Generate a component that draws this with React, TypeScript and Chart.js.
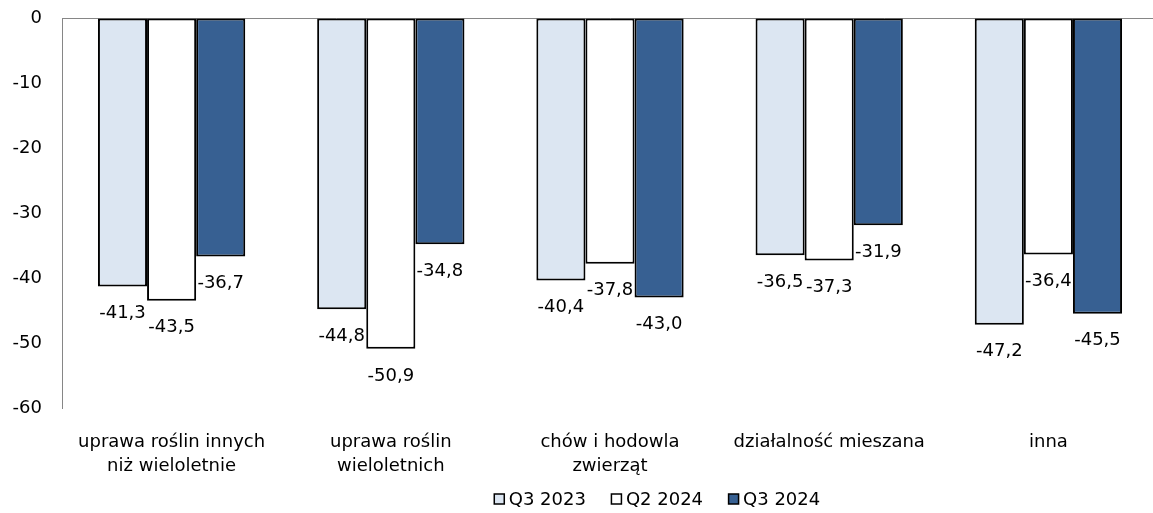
import React, { useEffect, useRef } from "react";
import { Chart, registerables } from "chart.js";

Chart.register(...registerables);

const categories: string[][] = [
  ["uprawa roślin innych", "niż wieloletnie"],
  ["uprawa roślin", "wieloletnich"],
  ["chów i hodowla", "zwierząt"],
  ["działalność mieszana"],
  ["inna"],
];
const seriesNames = ["Q3 2023", "Q2 2024", "Q3 2024"];
const q3_2023 = [-41.3, -44.8, -40.4, -36.5, -47.2];
const q2_2024 = [-43.5, -50.9, -37.8, -37.3, -36.4];
const q3_2024 = [-36.7, -34.8, -43.0, -31.9, -45.5];
const yMin = -60;
const yMax = 0;
const yStep = 10;

const FONT = "'DejaVu Sans', sans-serif";
const colors = ["#DCE6F2", "#FFFFFF", "#376092"];

const fmt = (v: number) => v.toFixed(1).replace(".", ",");

const labelPlugin = {
  id: "barLabels",
  afterDatasetsDraw(chart: any) {
    const ctx = chart.ctx;
    ctx.save();
    ctx.font = `18px ${FONT}`;
    ctx.fillStyle = "#000";
    ctx.textAlign = "center";
    ctx.textBaseline = "middle";
    chart.data.datasets.forEach((ds: any, i: number) => {
      const meta = chart.getDatasetMeta(i);
      meta.data.forEach((el: any, j: number) => {
        const v = ds.data[j];
        ctx.fillText(fmt(v), el.x, el.y + 27);
      });
    });
    ctx.restore();
  },
};

const legendPlugin = {
  id: "customLegend",
  afterDraw(chart: any) {
    const ctx = chart.ctx;
    ctx.save();
    ctx.font = `18px ${FONT}`;
    ctx.textBaseline = "middle";
    ctx.textAlign = "left";
    const box = 11;
    const gap = 4;
    const spacing = 25;
    const names = chart.data.datasets.map((d: any) => d.label);
    const widths = names.map((n: string) => box + gap + ctx.measureText(n).width);
    const total = widths.reduce((a: number, b: number) => a + b, 0) + spacing * (names.length - 1);
    let x = 657 - total / 2;
    const cy = 499;
    names.forEach((n: string, i: number) => {
      ctx.fillStyle = chart.data.datasets[i].backgroundColor;
      ctx.fillRect(x + 0.5, cy - box / 2 + 0.5, box - 1, box - 1);
      ctx.strokeStyle = "#000";
      ctx.lineWidth = 1.5;
      ctx.strokeRect(x + 0.5, cy - box / 2 + 0.5, box - 1, box - 1);
      ctx.fillStyle = "#000";
      ctx.fillText(n, x + box + gap, cy + 1);
      x += widths[i] + spacing;
    });
    ctx.restore();
  },
};

export default function App() {
  const ref = useRef<HTMLCanvasElement>(null);
  useEffect(() => {
    if (!ref.current) return;
    const series = [q3_2023, q2_2024, q3_2024];
    const chart = new Chart(ref.current, {
      type: "bar",
      data: {
        labels: categories,
        datasets: series.map((d, i) => ({
          label: seriesNames[i],
          data: d,
          backgroundColor: colors[i],
          borderColor: "#000000",
          borderWidth: 2,
          borderSkipped: false,
          categoryPercentage: 0.672,
          barPercentage: 1.0,
        })),
      },
      options: {
        responsive: false,
        animation: false,
        devicePixelRatio: 1,
        layout: { padding: { top: 18, left: 0, right: 0, bottom: 0 } },
        plugins: {
          legend: { display: false },
          tooltip: { enabled: false },
        },
        scales: {
          x: {
            grid: { display: false, drawTicks: false },
            border: { display: false },
            ticks: {
              color: "#000",
              font: { family: FONT, size: 18, lineHeight: 1.3 },
              padding: 23,
              maxRotation: 0,
              autoSkip: false,
            },
            afterFit: (s: any) => {
              s.height = 105;
              s.paddingLeft = 0;
              s.paddingRight = 0;
            },
          },
          y: {
            min: yMin,
            max: yMax,
            grid: {
              drawTicks: false,
              color: (c: any) => (c.tick && c.tick.value === 0 ? "#868686" : "rgba(0,0,0,0)"),
              lineWidth: 1,
            },
            border: { display: true, color: "#868686", width: 1 },
            ticks: {
              stepSize: yStep,
              color: "#000",
              font: { family: FONT, size: 18 },
              padding: 20,
              callback: (v: any) => String(v),
            },
            afterFit: (s: any) => {
              s.width = 62;
              s.paddingTop = 0;
              s.paddingBottom = 0;
            },
          },
        },
      },
      plugins: [labelPlugin, legendPlugin],
    });
    return () => chart.destroy();
  }, []);
  return (
    <div
      style={{
        position: "absolute",
        left: 0,
        top: 0,
        width: 1153,
        height: 513,
        overflow: "hidden",
        background: "#fff",
      }}
    >
      <canvas ref={ref} width={1158} height={513} style={{ display: "block" }} />
    </div>
  );
}
